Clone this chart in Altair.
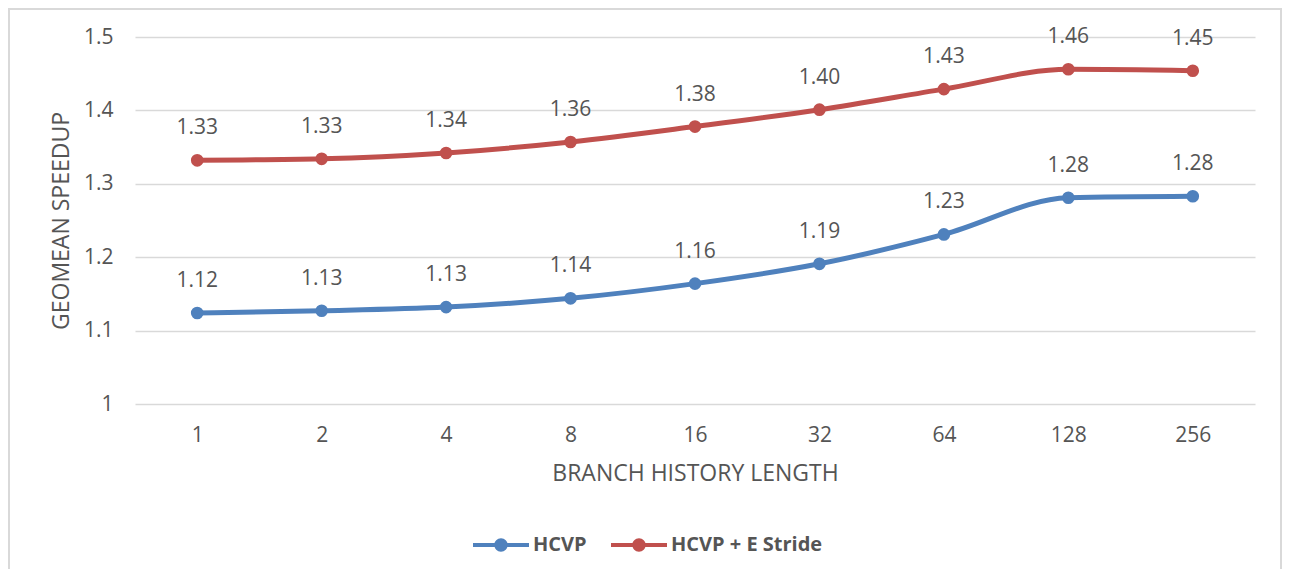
import altair as alt
import pandas as pd

lengths = ["1", "2", "4", "8", "16", "32", "64", "128", "256"]
hcvp = [1.124, 1.127, 1.132, 1.144, 1.164, 1.191, 1.231, 1.281, 1.283]
hcvp_stride = [1.332, 1.334, 1.342, 1.357, 1.378, 1.401, 1.429, 1.456, 1.454]
series_names = ["HCVP", "HCVP + E Stride"]
series_colors = ["#4F81BD", "#C0504D"]

rows = []
for name, vals in zip(series_names, [hcvp, hcvp_stride]):
    for l, v in zip(lengths, vals):
        rows.append({"len": l, "val": v, "series": name})
df = pd.DataFrame(rows)

FONT = "Open Sans"
TXT = "#555555"

x = alt.X("len:O", sort=lengths,
          scale=alt.Scale(type="point", padding=0.5),
          axis=alt.Axis(title="BRANCH HISTORY LENGTH", labelAngle=0, domain=False, ticks=False,
                        grid=False, labelPadding=20, titlePadding=17, labelFontSize=21,
                        titleFontSize=23, titleFontWeight="normal"))
y = alt.Y("val:Q", scale=alt.Scale(domain=[1, 1.5], nice=False, zero=False),
          axis=alt.Axis(title="GEOMEAN SPEEDUP", values=[1, 1.1, 1.2, 1.3, 1.4, 1.5],
                        format="~g", domain=False, ticks=False, labelPadding=22,
                        titlePadding=10, labelFontSize=21, titleFontSize=23,
                        titleFontWeight="normal", gridColor="#D9D9D9", gridWidth=1.3))
color_scale = alt.Scale(domain=series_names, range=series_colors)

base = alt.Chart(df)

line = base.mark_line(strokeWidth=5, interpolate="monotone").encode(
    x=x, y=y, color=alt.Color("series:N", scale=color_scale, legend=None))

legend_path = ("M-1,-0.075 L1,-0.075 L1,0.075 L-1,0.075 Z "
               "M-0.24,0 A0.24,0.24 0 1,1 0.24,0 A0.24,0.24 0 1,1 -0.24,0 Z")
points = base.mark_point(filled=True, size=160, opacity=1).encode(
    x=x, y=y,
    color=alt.Color("series:N", scale=color_scale,
                    legend=alt.Legend(title=None, orient="none", direction="horizontal",
                                      legendX=338, legendY=480, symbolType=legend_path,
                                      symbolSize=3136, symbolStrokeWidth=0, symbolOpacity=1,
                                      labelFont=FONT, labelFontSize=20, labelFontWeight="bold",
                                      labelColor=TXT, columnPadding=24, labelOffset=4)))

labels = base.mark_text(fontSize=21, font=FONT, color=TXT, dy=-32, baseline="middle").encode(
    x=x, y=y, text=alt.Text("val:Q", format=".2f"))

border = alt.Chart(pd.DataFrame({"a": [0]})).mark_rect(
    filled=False, stroke="#D9D9D9", strokeWidth=2).encode(
    x=alt.value(-126), x2=alt.value(1146), y=alt.value(-28), y2=alt.value(700))

chart = alt.layer(border, line, points, labels).resolve_legend(color="independent").properties(
    width=1120, height=367,
    autosize=alt.AutoSizeParams(type="none"),
    padding={"left": 127, "top": 29, "right": 27, "bottom": 165},
).configure_view(stroke=None).configure_axis(
    labelFont=FONT, titleFont=FONT, labelColor=TXT, titleColor=TXT
)

chart.save("out.html", embed_options={"renderer": "svg", "actions": False})
